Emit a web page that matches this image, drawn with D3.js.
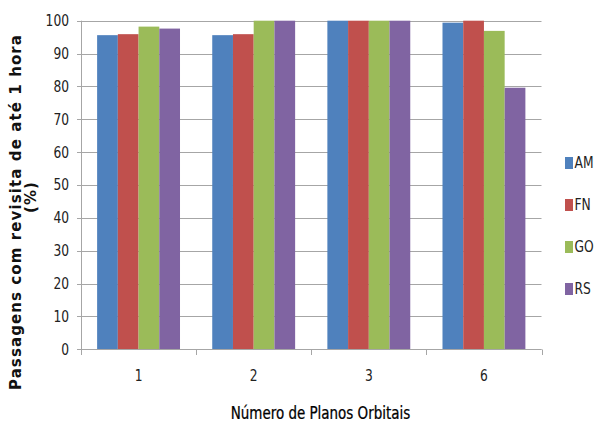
<!DOCTYPE html>
<html>
<head>
<meta charset="utf-8">
<script src="https://cdn.jsdelivr.net/npm/d3@7"></script>
<style>
  html, body { margin: 0; padding: 0; background: #fff; }
  svg { display: block; }
  .narrow { font-family: "Liberation Sans Narrow", "DejaVu Sans Condensed", "Liberation Sans", sans-serif; }
</style>
</head>
<body>
<svg id="chart" width="595" height="423"></svg>
<script>
// Number of orbital planes (categories)
const planes = ["1", "2", "3", "6"];
// Series: ground stations
const series = ["AM", "FN", "GO", "RS"];
const colors = ["#4F81BD", "#C0504D", "#9BBB59", "#8064A2"];
// Passes with revisit up to 1 hour (%), per station, per number of planes
const valuesAM = [95.6, 95.6, 100, 99.4];
const valuesFN = [95.9, 95.9, 100, 100];
const valuesGO = [98.2, 100, 100, 96.9];
const valuesRS = [97.6, 100, 100, 79.6];
const yTicks = [0, 10, 20, 30, 40, 50, 60, 70, 80, 90, 100];

const seriesValues = [valuesAM, valuesFN, valuesGO, valuesRS];

const svg = d3.select("#chart");
const plot = { left: 81, right: 541.5, top: 20.7, bottom: 349.3 };
const squeeze = 0.88; // horizontal compression for label text

const x = d3.scaleBand()
  .domain(planes)
  .range([plot.left, plot.right])
  .paddingInner(0.28)
  .paddingOuter(0.14);

const xInner = d3.scaleBand()
  .domain(series)
  .range([0, x.bandwidth()])
  .padding(0);

const y = d3.scaleLinear()
  .domain([0, 100])
  .range([plot.bottom, plot.top]);

const gridColor = "#a6a6a6";

// Horizontal gridlines with short tick marks to the left of the axis
svg.append("g")
  .selectAll("line")
  .data(yTicks)
  .join("line")
  .attr("x1", plot.left - 4)
  .attr("x2", plot.right)
  .attr("y1", d => Math.round(y(d)) + 0.5)
  .attr("y2", d => Math.round(y(d)) + 0.5)
  .attr("stroke", gridColor)
  .attr("stroke-width", 1);

// Vertical axis line
svg.append("line")
  .attr("x1", plot.left + 0.5).attr("x2", plot.left + 0.5)
  .attr("y1", plot.top).attr("y2", plot.bottom)
  .attr("stroke", gridColor);

// Bars
const groups = svg.append("g")
  .selectAll("g")
  .data(planes)
  .join("g")
  .attr("transform", d => `translate(${x(d)},0)`);

groups.selectAll("rect")
  .data((p, i) => series.map((s, k) => ({ s, k, v: seriesValues[k][i] })))
  .join("rect")
  .attr("x", d => xInner(d.s))
  .attr("width", xInner.bandwidth())
  .attr("y", d => y(d.v))
  .attr("height", d => y(0) - y(d.v))
  .attr("fill", d => colors[d.k]);

// Category axis line and boundary ticks
const boundaries = d3.range(planes.length + 1).map(i => plot.left + i * (plot.right - plot.left) / planes.length);
svg.append("line")
  .attr("x1", plot.left).attr("x2", plot.right)
  .attr("y1", Math.round(y(0)) + 0.5).attr("y2", Math.round(y(0)) + 0.5)
  .attr("stroke", gridColor);
svg.append("g")
  .selectAll("line")
  .data(boundaries)
  .join("line")
  .attr("x1", d => Math.round(d) + 0.5)
  .attr("x2", d => Math.round(d) + 0.5)
  .attr("y1", Math.round(y(0)) + 0.5)
  .attr("y2", Math.round(y(0)) + 6)
  .attr("stroke", gridColor);

// Y tick labels
svg.append("g")
  .selectAll("text")
  .data(yTicks)
  .join("text")
  .attr("class", "narrow")
  .attr("transform", d => `translate(69,${y(d)}) scale(${squeeze},1)`)
  .attr("dy", "0.35em")
  .attr("text-anchor", "end")
  .attr("font-size", 15.5)
  .attr("fill", "#222")
  .text(d => d);

// X tick labels
svg.append("g")
  .selectAll("text")
  .data(planes)
  .join("text")
  .attr("class", "narrow")
  .attr("transform", d => `translate(${x(d) + x.bandwidth() / 2},381) scale(${squeeze},1)`)
  .attr("text-anchor", "middle")
  .attr("font-size", 15.5)
  .attr("fill", "#222")
  .text(d => d);

// X axis title
svg.append("text")
  .attr("class", "narrow")
  .attr("transform", `translate(320.5,419) scale(${squeeze},1)`)
  .attr("text-anchor", "middle")
  .attr("font-size", 17)
  .attr("fill", "#000")
  .attr("stroke", "#000")
  .attr("stroke-width", 0.25)
  .text("Número de Planos Orbitais");

// Y axis title (two lines, rotated)
const yTitle = svg.append("g")
  .attr("font-family", "'DejaVu Sans', Verdana, sans-serif")
  .attr("font-weight", "bold")
  .attr("font-size", 15)
  .attr("fill", "#111")
  .attr("text-anchor", "middle");
yTitle.append("text")
  .attr("transform", "translate(21,212) rotate(-90)")
  .attr("letter-spacing", 1.1)
  .text("Passagens com revisita de até 1 hora");
yTitle.append("text")
  .attr("transform", "translate(36,197) rotate(-90)")
  .attr("letter-spacing", 1.1)
  .text("(%)");

// Legend
const legend = svg.append("g")
  .selectAll("g")
  .data(series)
  .join("g")
  .attr("transform", (d, i) => `translate(565,${163 + i * 42})`);
legend.append("rect")
  .attr("x", 0).attr("y", -6)
  .attr("width", 8).attr("height", 12)
  .attr("fill", (d, i) => colors[i]);
legend.append("text")
  .attr("class", "narrow")
  .attr("transform", `translate(9.5,0) scale(${squeeze},1)`)
  .attr("dy", "0.35em")
  .attr("font-size", 15.5)
  .attr("fill", "#222")
  .text(d => d);
</script>
</body>
</html>
